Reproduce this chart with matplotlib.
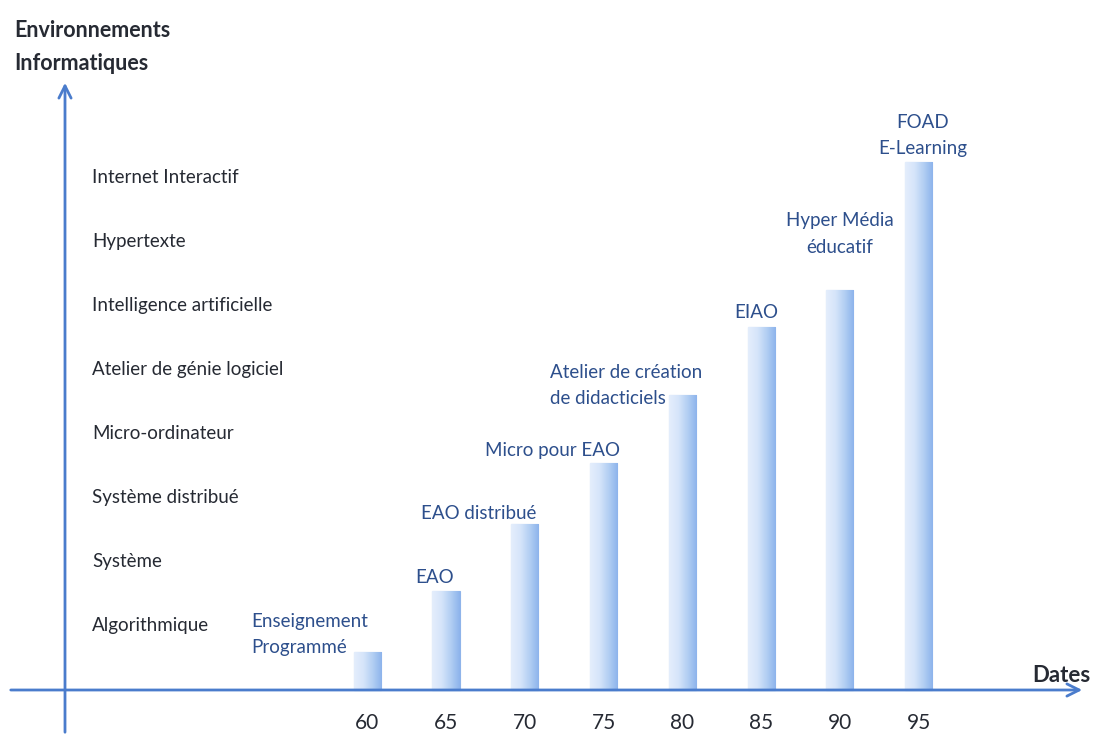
import matplotlib.pyplot as plt
import numpy as np
from matplotlib.colors import LinearSegmentedColormap

plt.rcParams['font.family'] = ['Lato', 'DejaVu Sans']

# données
dates = [60, 65, 70, 75, 80, 85, 90, 95]
niveaux = [0.59, 1.55, 2.59, 3.55, 4.61, 5.67, 6.25, 8.25]
etiquettes = ['Enseignement\nProgrammé', 'EAO', 'EAO distribué', 'Micro pour EAO',
              'Atelier de création\nde didacticiels', 'EIAO', 'Hyper Média\néducatif',
              'FOAD\nE-Learning']
environnements = ['Algorithmique', 'Système', 'Système distribué', 'Micro-ordinateur',
                  'Atelier de génie logiciel', 'Intelligence artificielle',
                  'Hypertexte', 'Internet Interactif']

# décalages des étiquettes (pixels) et alignement des lignes
decalages = [(-58, 18), (-11, 13), (-46, 11), (-51, 12), (-56, 9), (-5, 15), (0, 56), (4, 26)]
alignements = ['left', 'center', 'center', 'center', 'left', 'center', 'center', 'center']

bleu = '#4a7ccc'
bleu_texte = '#2d4f8c'
encre = '#262a33'

fig = plt.figure(figsize=(10.93, 7.35), dpi=100)
ax = fig.add_axes([0, 0, 1, 1])
ax.axis('off')

# barres avec dégradé
largeur = 1.72
grad = np.linspace(0, 1, 64).reshape(1, -1)
cmap = LinearSegmentedColormap.from_list('b', ['#e4eefc', '#d6e5fa', '#b3cff3', '#8db4ec'])
barres = ax.bar(dates, niveaux, width=largeur, color='#cfe0f8', edgecolor='#8fb4ea',
                linewidth=0.8, zorder=2)
for b in barres:
    x0, y0 = b.get_x(), b.get_y()
    im = ax.imshow(grad, cmap=cmap, aspect='auto', zorder=3,
                   extent=(x0, x0 + b.get_width(), y0, y0 + b.get_height()))
    im.set_clip_path(b)
ax.set_xlim(36.69, 106.07)
ax.set_ylim(-0.703, 10.78)

# étiquettes des barres
for d, h, t, (dx, dy), al in zip(dates, niveaux, etiquettes, decalages, alignements):
    ax.annotate(t, xy=(d, h), xytext=(dx, dy), textcoords='offset pixels',
                ha='center', va='center', multialignment=al, fontsize=13.5,
                color=bleu_texte, linespacing=1.65, zorder=5)

# dates sous l'axe
for d in dates:
    ax.text(d, -0.52, str(d), ha='center', va='center', fontsize=15, color=encre)

# environnements informatiques
for i, e in enumerate(environnements):
    ax.text(92 / 1093, i + 1, e, transform=ax.get_yaxis_transform(),
            ha='left', va='center', fontsize=13.5, color=encre)

# axes fléchés
ax.annotate('', xy=(1085 / 1093, 0), xytext=(8 / 1093, 0),
            xycoords=ax.get_yaxis_transform(), textcoords=ax.get_yaxis_transform(),
            arrowprops=dict(arrowstyle='->', color=bleu, lw=2, mutation_scale=22), zorder=4)
ax.annotate('', xy=(65 / 1093, 1 - 80 / 735), xytext=(65 / 1093, 0),
            xycoords='axes fraction', textcoords='axes fraction',
            arrowprops=dict(arrowstyle='->', color=bleu, lw=2, mutation_scale=22), zorder=4)

ax.text(14 / 1093, 1 - 47 / 735, 'Environnements\nInformatiques', transform=ax.transAxes,
        ha='left', va='center', fontsize=15.5, fontweight='bold', color=encre, linespacing=1.65)
ax.text(1091 / 1093, 1 - 676 / 735, 'Dates', transform=ax.transAxes,
        ha='right', va='center', fontsize=16, fontweight='bold', color=encre)

fig.savefig('out.png', dpi=100)
